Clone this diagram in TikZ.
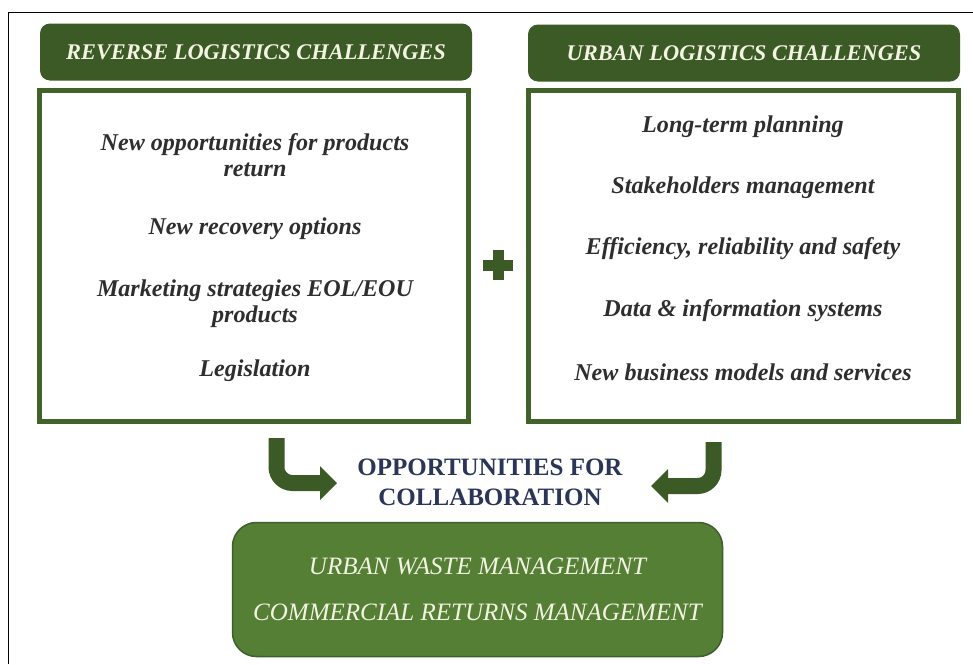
\documentclass[tikz,border=0pt]{standalone}
\usepackage{fontspec}
\setmainfont{Liberation Serif}
\definecolor{hdrgreen}{HTML}{3B5A25}
\definecolor{boxgreen}{HTML}{416329}
\definecolor{botgreen}{HTML}{547F35}
\definecolor{botborder}{HTML}{3E5F2B}
\definecolor{navy}{HTML}{2A3557}
\definecolor{cream}{HTML}{F3F3E2}
\begin{document}
\begin{tikzpicture}[x=1pt,y=-1pt,
  hdr/.style={fill=hdrgreen, rounded corners=10pt, text=cream, inner sep=0pt,
    minimum width=432pt, minimum height=57pt, font=\fontsize{22.4}{27}\selectfont\bfseries\itshape},
  chbox/.style={draw=boxgreen, line width=5pt, inner sep=0pt},
  item/.style={font=\fontsize{24.1}{26}\selectfont\bfseries\itshape, text=black!82, align=center, inner sep=0pt},
  bot/.style={fill=botgreen, draw=botborder, line width=1.5pt, rounded corners=24pt,
    minimum width=490pt, minimum height=134pt, inner sep=0pt},
  bottxt/.style={text=cream, font=\fontsize{25}{30}\selectfont\itshape, inner sep=0pt},
  arr/.style={draw=hdrgreen, line width=16pt, rounded corners=16pt},
  arrhead/.style={fill=hdrgreen}
]
\useasboundingbox (0,0) rectangle (973,664);
\fill[white] (0,0) rectangle (973,664);
% outer frame (cropped)
\draw[line width=1.5pt] (8.5,664) -- (8.5,12.5) -- (973,12.5);

% headers
\node[hdr] (hl) at (256,52) {REVERSE LOGISTICS CHALLENGES};
\node[hdr] (hr) at (744,53) {URBAN LOGISTICS CHALLENGES};

% boxes
\node[chbox, minimum width=429pt, minimum height=331pt] (bl) at (254,256) {};
\node[chbox, minimum width=430pt, minimum height=331pt] (br) at (743.5,256) {};

% left items
\node[item] (l1) at (255,155) {New opportunities for products\\return};
\node[item] (l2) at (255,229) {New recovery options};
\node[item] (l3) at (255,304) {Marketing strategies EOL/EOU\\products};
\node[item] (l4) at (255,371) {Legislation};

% right items
\node[item] (r1) at (743,127) {Long-term planning};
\node[item] (r2) at (743,188) {Stakeholders management};
\node[item] (r3) at (743,249) {Efficiency, reliability and safety};
\node[item] (r4) at (743,311) {Data \& information systems};
\node[item] (r5) at (743,372) {New business models and services};

% plus sign
\coordinate (plus) at (498,265);
\fill[hdrgreen] ([xshift=-15pt,yshift=-5.5pt]plus) rectangle ([xshift=15pt,yshift=5.5pt]plus);
\fill[hdrgreen] ([xshift=-5.5pt,yshift=-15pt]plus) rectangle ([xshift=5.5pt,yshift=15pt]plus);

% center text
\node[text=navy, font=\fontsize{25}{30}\selectfont\bfseries, align=center, inner sep=0pt] (opp) at (490,482)
  {OPPORTUNITIES FOR\\COLLABORATION};

% arrows
\coordinate (la0) at (276.5,438);
\coordinate (la1) at (276.5,483);
\coordinate (la2) at (322,483);
\draw[arr] (la0) -- (la1) -- (la2);
\fill[arrhead] (320,466) -- (337,483) -- (320,500) -- cycle;

\coordinate (ra0) at (713.5,442);
\coordinate (ra1) at (713.5,486);
\coordinate (ra2) at (666,486);
\draw[arr] (ra0) -- (ra1) -- (ra2);
\fill[arrhead] (668,469) -- (651,486) -- (668,503) -- cycle;

% bottom box
\node[bot] (bb) at (477.5,589.5) {};
\node[bottxt] (b1) at (477.5,566) {URBAN WASTE MANAGEMENT};
\node[bottxt] (b2) at (477.5,612) {COMMERCIAL RETURNS MANAGEMENT};
\end{tikzpicture}
\end{document}
